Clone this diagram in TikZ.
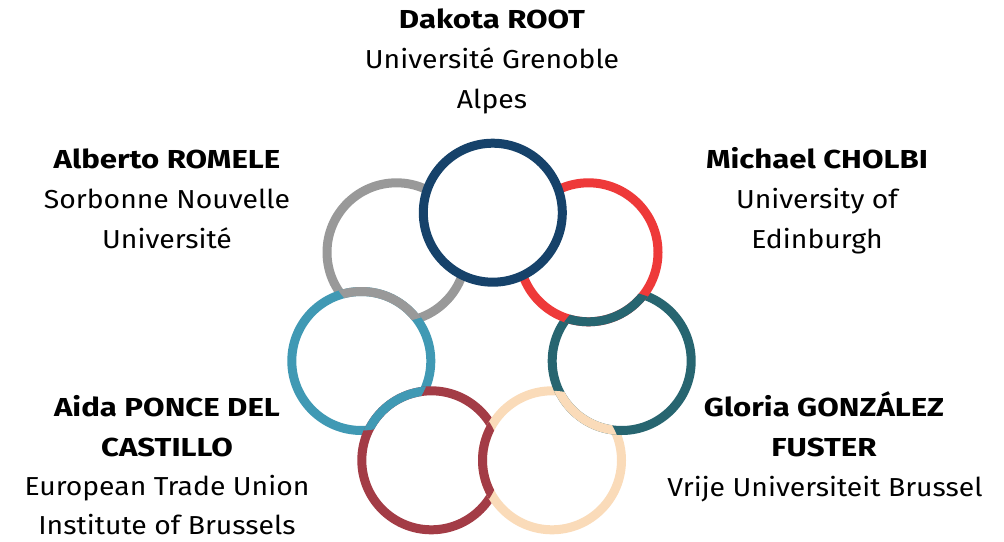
\documentclass[tikz,border=0pt]{standalone}
\usepackage{fontspec}
\setmainfont{Fira Sans}
\newfontfamily\regf{Fira Sans}[FakeStretch=1.09]
\newfontfamily\boldf{Fira Sans}[FakeStretch=1.2]
\definecolor{cdb}{RGB}{22,66,106}
\definecolor{cred}{RGB}{238,57,57}
\definecolor{cteal}{RGB}{39,101,112}
\definecolor{cpeach}{RGB}{250,219,185}
\definecolor{cmaroon}{RGB}{163,60,70}
\definecolor{clb}{RGB}{64,153,180}
\definecolor{cgray}{RGB}{153,153,153}
\tikzset{
  ring/.style={circle, minimum size=139pt, inner sep=0pt, line width=9pt, fill=white, draw=#1},
  arcfix/.style={line width=9pt, draw=#1},
  lbl/.style={anchor=base, inner sep=0pt, font=\fontsize{26}{30}\regf},
  lblb/.style={anchor=base, inner sep=0pt, font=\fontsize{26}{30}\boldf\bfseries},
}
\newcommand{\rr}{69.5pt}
\begin{document}
\begin{tikzpicture}[x=1pt,y=-1pt]
\useasboundingbox (0,0) rectangle (1004,541);
% rings, bottom to top
\node[ring=cgray] (g) at (396.5,252.3) {};
\node[ring=clb] (lb) at (361.3,361) {};
\begin{scope}\clip (g.center) circle[radius=\rr];
  \draw[arcfix=cgray] (lb.center) circle[radius=\rr];\end{scope}
\node[ring=cmaroon] (m) at (431.3,460.3) {};
\begin{scope}\clip (lb.center) circle[radius=\rr];
  \draw[arcfix=clb] (m.center) circle[radius=\rr];\end{scope}
\node[ring=cpeach] (p) at (552,460.3) {};
\begin{scope}\clip (m.center) circle[radius=\rr];
  \draw[arcfix=cmaroon] (p.center) circle[radius=\rr];\end{scope}
\node[ring=cteal] (t) at (621.7,361) {};
\begin{scope}\clip (p.center) circle[radius=\rr];
  \draw[arcfix=cpeach] (t.center) circle[radius=\rr];\end{scope}
\node[ring=cred] (r) at (588.5,252.3) {};
\begin{scope}\clip (t.center) circle[radius=\rr];
  \draw[arcfix=cteal] (r.center) circle[radius=\rr];\end{scope}
\node[ring=cdb] (db) at (492.8,212.7) {};
% labels
\node[lblb] (n1a) at (492,28) {Dakota ROOT};
\node[lbl] (n1b) at (492,68) {Université Grenoble};
\node[lbl] (n1c) at (492,108) {Alpes};
\node[lblb] (n2a) at (167,168) {Alberto ROMELE};
\node[lbl] (n2b) at (167,208) {Sorbonne Nouvelle};
\node[lbl] (n2c) at (167,248) {Université};
\node[lblb] (n3a) at (817,168) {Michael CHOLBI};
\node[lbl] (n3b) at (817,208) {University of};
\node[lbl] (n3c) at (817,248) {Edinburgh};
\node[lblb] (n4a) at (167,416.5) {Aida PONCE DEL};
\node[lblb] (n4b) at (167,456) {CASTILLO};
\node[lbl] (n4c) at (167,495) {European Trade Union};
\node[lbl] (n4d) at (167,534) {Institute of Brussels};
\node[lblb] (n5a) at (824,416) {Gloria GONZÁLEZ};
\node[lblb] (n5b) at (824,456) {FUSTER};
\node[lbl] (n5c) at (825,496) {Vrije Universiteit Brussel};
\end{tikzpicture}
\end{document}
